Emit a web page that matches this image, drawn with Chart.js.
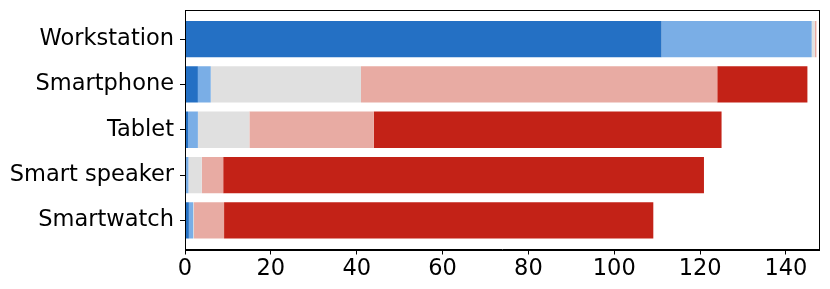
<!DOCTYPE html>
<html>
<head>
<meta charset="utf-8">
<script src="https://cdn.jsdelivr.net/npm/chart.js@4/dist/chart.umd.min.js"></script>
<style>
  html, body { margin: 0; padding: 0; background: #fff; }
  #wrap { width: 830px; height: 289px; }
</style>
</head>
<body>
<div id="wrap"><canvas id="deviceChart" width="830" height="289"></canvas></div>
<script>
const categories = ['Workstation', 'Smartphone', 'Tablet', 'Smart speaker', 'Smartwatch'];
const darkBlue  = [111, 3, 0.7, 0.2, 0.9];
const lightBlue = [35, 3, 2.3, 0.6, 1.0];
const neutral   = [0.7, 35, 12, 3.1, 0.2];
const lightRed  = [0.4, 83, 29, 5, 7];
const darkRed   = [0, 21, 81, 112, 100];
const xTicks = [0, 20, 40, 60, 80, 100, 120, 140];

const toPoints = (vals) => vals.map((v, i) => ({ x: v, y: i }));

const frame = {
    id: 'frame',
    afterDraw(chart) {
        const { ctx, chartArea: a } = chart;
        ctx.save();
        ctx.strokeStyle = '#000';
        ctx.lineWidth = 1;
        ctx.strokeRect(Math.round(a.left) + 0.5, Math.round(a.top) + 0.5,
            Math.round(a.right - a.left), Math.round(a.bottom - a.top));
        ctx.restore();
    }
};

const ctx = document.getElementById('deviceChart').getContext('2d');
new Chart(ctx, {
    type: 'bar',
    data: {
        datasets: [
            { data: toPoints(darkBlue), backgroundColor: '#2470c4' },
            { data: toPoints(lightBlue), backgroundColor: '#7aaee6' },
            { data: toPoints(neutral), backgroundColor: '#e0e0e0' },
            { data: toPoints(lightRed), backgroundColor: '#e8aba3' },
            { data: toPoints(darkRed), backgroundColor: '#c32217' }
        ]
    },
    options: {
        indexAxis: 'y',
        responsive: false,
        animation: false,
        categoryPercentage: 1,
        barPercentage: 0.8,
        layout: { padding: { left: 0, right: 11, top: 10, bottom: 0 } },
        plugins: { legend: { display: false }, tooltip: { enabled: false } },
        scales: {
            x: {
                type: 'linear',
                stacked: true,
                min: 0,
                max: 147.7,
                afterBuildTicks: (s) => { s.ticks = xTicks.map(v => ({ value: v })); },
                afterFit: (s) => { s.height = 39.5; s.paddingLeft = 0; s.paddingRight = 0; },
                grid: { drawOnChartArea: false, tickLength: 5, color: '#000' },
                border: { display: true, color: '#000', width: 1 },
                ticks: {
                    color: '#000',
                    padding: 1,
                    font: { family: 'DejaVu Sans', size: 22.5 }
                }
            },
            y: {
                type: 'linear',
                stacked: true,
                reverse: true,
                offset: false,
                min: -0.64,
                max: 4.64,
                afterBuildTicks: (s) => { s.ticks = categories.map((c, i) => ({ value: i })); },
                afterFit: (s) => { s.width = 185; s.paddingTop = 0; s.paddingBottom = 0; },
                grid: { drawOnChartArea: false, offset: false, tickLength: 5, color: '#000' },
                border: { display: true, color: '#000', width: 1 },
                ticks: {
                    color: '#000',
                    padding: 6,
                    font: { family: 'DejaVu Sans', size: 22.5 },
                    callback: (v) => categories[v]
                }
            }
        }
    },
    plugins: [frame]
});
</script>
</body>
</html>
